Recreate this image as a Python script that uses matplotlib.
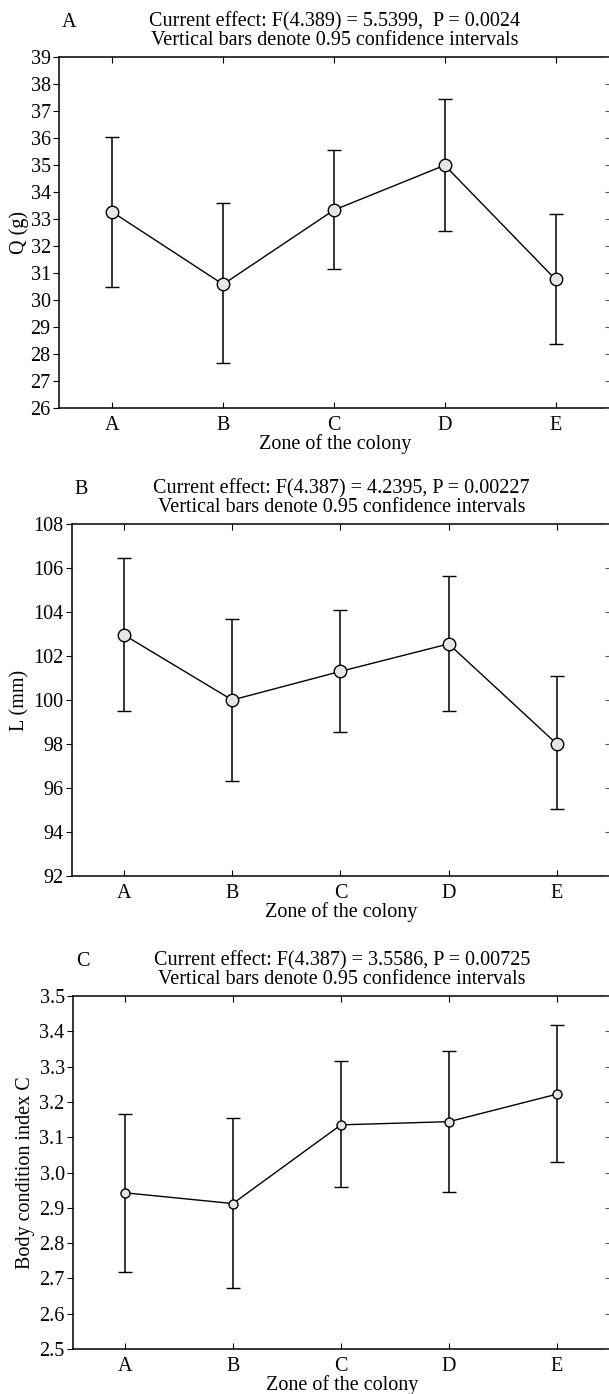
import matplotlib
matplotlib.use("Agg")
import matplotlib.pyplot as plt
from matplotlib.ticker import MultipleLocator

plt.rcParams['font.family'] = ['Liberation Serif', 'DejaVu Serif']

zones = ['A', 'B', 'C', 'D', 'E']

# panel A: body mass
q_mean = [33.26, 30.58, 33.33, 34.99, 30.76]
q_low = [30.48, 27.65, 31.14, 32.55, 28.38]
q_high = [36.03, 33.60, 35.54, 37.45, 33.17]

# panel B: length
l_mean = [102.96, 100.0, 101.3, 102.55, 98.0]
l_low = [99.52, 96.3, 98.55, 99.5, 95.05]
l_high = [106.45, 103.7, 104.1, 105.65, 101.1]

# panel C: body condition index
c_mean = [2.9425, 2.912, 3.135, 3.144, 3.222]
c_low = [2.719, 2.673, 2.960, 2.946, 3.029]
c_high = [3.167, 3.155, 3.315, 3.345, 3.418]

W, H = 609, 1394
fig = plt.figure(figsize=(W / 100, H / 100), dpi=100)


def make_axes(l, r, t, b):
    return fig.add_axes([l / W, 1 - b / H, (r - l) / W, (b - t) / H])


def panel(ax, letter, head, mean, low, high, ylim, step, ylabel, msize, fmt, ypad=3):
    x = list(range(len(zones)))
    yerr = [[m - lo for m, lo in zip(mean, low)], [hi - m for m, hi in zip(mean, high)]]
    ax.errorbar(x, mean, yerr=yerr, fmt='-o', color='black', lw=1.0, elinewidth=1.1,
                capsize=5, capthick=1.1, ms=msize, mfc='#e6e6e6', mec='black', mew=1.0,
                zorder=3)
    ax.set_xlim(-0.48, 4.5)
    ax.set_ylim(*ylim)
    ax.yaxis.set_major_locator(MultipleLocator(step))
    ax.yaxis.set_major_formatter(fmt)
    ax.set_xticks(x)
    ax.set_xticklabels(zones)
    ax.tick_params(axis='x', direction='in', length=4, top=True, labelsize=14.5, pad=6)
    ax.tick_params(axis='y', direction='out', length=4, labelsize=14.5, pad=2)
    ax.spines['right'].set_visible(False)
    for s in ['left', 'bottom', 'top']:
        ax.spines[s].set_linewidth(1.1)
    ax.set_xlabel('Zone of the colony', fontsize=14.5, labelpad=-1)
    ax.set_ylabel(ylabel, fontsize=14.5, labelpad=ypad)
    ax.annotate(head, xy=(0.5, 1), xycoords='axes fraction', xytext=(0, 5),
                textcoords='offset points', ha='center', va='bottom', fontsize=14.5,
                linespacing=0.95)
    ax.annotate(letter, xy=(0, 1), xycoords='axes fraction', xytext=(2, 18),
                textcoords='offset points', ha='left', va='bottom', fontsize=14.5)
    # inward ticks along the (cut off) right edge
    rt = ax.twinx()
    rt.set_ylim(*ylim)
    rt.yaxis.set_major_locator(MultipleLocator(step))
    rt.tick_params(axis='y', direction='in', length=4, labelright=False, color='#555555')
    for s in rt.spines.values():
        s.set_visible(False)


axA = make_axes(59, 611, 57, 408)
panel(axA, 'A', 'Current effect: F(4.389) = 5.5399,  P = 0.0024\nVertical bars denote 0.95 confidence intervals',
      q_mean, q_low, q_high, (26, 39), 1, 'Q (g)', 9, '{x:.0f}', ypad=1)

axB = make_axes(72, 611, 524, 876)
panel(axB, 'B', 'Current effect: F(4.387) = 4.2395, P = 0.00227\nVertical bars denote 0.95 confidence intervals',
      l_mean, l_low, l_high, (92, 108), 2, 'L (mm)', 9, '{x:.0f}')

axC = make_axes(73, 611, 996, 1349)
panel(axC, 'C', 'Current effect: F(4.387) = 3.5586, P = 0.00725\nVertical bars denote 0.95 confidence intervals',
      c_mean, c_low, c_high, (2.5, 3.5), 0.1, 'Body condition index C', 6.5, '{x:.1f}')

fig.savefig('out.png', dpi=100)
